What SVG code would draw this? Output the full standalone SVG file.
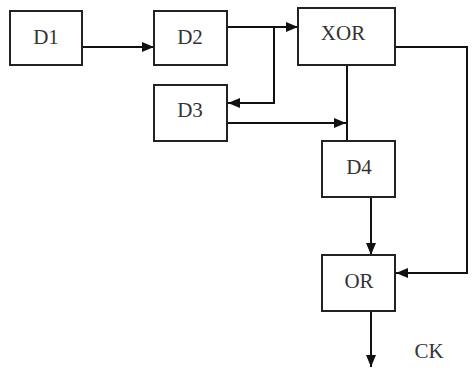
<svg xmlns="http://www.w3.org/2000/svg" width="474" height="368" viewBox="0 0 474 368">
<style>
.box{fill:#fff;stroke:#222;stroke-width:2}
.lbl{font-family:"Liberation Serif",serif;font-size:21px;fill:#333;text-anchor:middle}
.wire{fill:none;stroke:#111;stroke-width:2}
</style>
<defs>
<marker id="ah" markerWidth="12" markerHeight="10" refX="12" refY="5" orient="auto" markerUnits="userSpaceOnUse">
<path d="M0,0 L12,5 L0,10 Z" fill="#111"/>
</marker>
</defs>
<rect width="474" height="368" fill="#fff"/>
<g id="connectors">
<line class="wire" x1="82" y1="47" x2="154" y2="47" marker-end="url(#ah)"/>
<line class="wire" x1="227" y1="27" x2="298" y2="27" marker-end="url(#ah)"/>
<polyline class="wire" points="274,27 274,103 228,103" marker-end="url(#ah)"/>
<line class="wire" x1="227" y1="123" x2="346" y2="123" marker-end="url(#ah)"/>
<line class="wire" x1="347" y1="65" x2="347" y2="141"/>
<polyline class="wire" points="395,47 467,47 467,273 396,273" marker-end="url(#ah)"/>
<line class="wire" x1="371" y1="197" x2="371" y2="255" marker-end="url(#ah)"/>
<line class="wire" x1="371" y1="311" x2="371" y2="367" marker-end="url(#ah)"/>
</g>
<g id="D1"><rect class="box" x="10" y="11" width="72" height="54"/><text class="lbl" x="46" y="44">D1</text></g>
<g id="D2"><rect class="box" x="154" y="11" width="73" height="54"/><text class="lbl" x="190" y="44">D2</text></g>
<g id="D3"><rect class="box" x="154" y="85" width="73" height="56"/><text class="lbl" x="190" y="117">D3</text></g>
<g id="XOR"><rect class="box" x="298" y="8" width="97" height="57"/><text class="lbl" x="343" y="40">XOR</text></g>
<g id="D4"><rect class="box" x="322" y="141" width="73" height="56"/><text class="lbl" x="359" y="174">D4</text></g>
<g id="OR"><rect class="box" x="322" y="255" width="73" height="56"/><text class="lbl" x="359" y="288">OR</text></g>
<g id="CK"><text class="lbl" x="429" y="358">CK</text></g>
</svg>
